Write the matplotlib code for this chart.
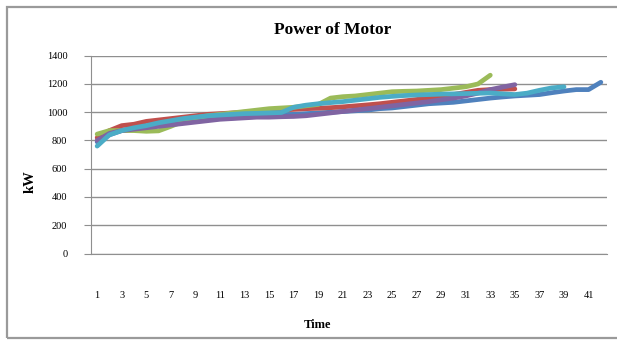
import matplotlib
matplotlib.use("Agg")
import matplotlib.pyplot as plt
from matplotlib.patches import Rectangle

time = list(range(1, 43))
tick_labels = [str(t) for t in range(1, 42, 2)]

blue = [790, 840, 870, 885, 900, 910, 920, 930, 940, 950, 955, 960, 965, 970, 975,
        980, 985, 990, 995, 1000, 1005, 1010, 1015, 1025, 1030, 1040, 1050, 1060,
        1065, 1070, 1080, 1090, 1100, 1108, 1115, 1120, 1125, 1138, 1150, 1160,
        1160, 1212]
red = [820, 870, 905, 915, 935, 945, 955, 965, 975, 985, 990, 995, 1000, 1005,
       1010, 1015, 1020, 1025, 1028, 1032, 1038, 1045, 1052, 1060, 1070, 1080,
       1090, 1100, 1110, 1125, 1140, 1155, 1160, 1163, 1165]
green = [845, 870, 870, 870, 865, 868, 900, 935, 960, 975, 985, 995, 1005, 1015,
         1025, 1030, 1035, 1045, 1055, 1100, 1110, 1115, 1125, 1135, 1145, 1148,
         1150, 1155, 1160, 1170, 1180, 1200, 1262]
purple = [800, 850, 870, 880, 890, 900, 910, 920, 930, 940, 950, 955, 960, 965,
          965, 968, 970, 975, 985, 995, 1005, 1015, 1025, 1035, 1045, 1055, 1065,
          1075, 1088, 1100, 1115, 1135, 1160, 1178, 1195]
aqua = [760, 840, 870, 890, 905, 925, 940, 955, 965, 975, 980, 985, 990, 992, 995,
        998, 1035, 1050, 1060, 1068, 1075, 1085, 1095, 1105, 1112, 1118, 1122,
        1125, 1128, 1130, 1132, 1134, 1136, 1130, 1125, 1135, 1155, 1172, 1180]

series = [blue, red, green, purple, aqua]
colors = ["#4F81BD", "#C0504D", "#9BBB59", "#8064A2", "#4BACC6"]

fig = plt.figure(figsize=(6.17, 3.43), dpi=100)
ax = fig.add_axes([91/617, 1 - 253.5/343, (607 - 91)/617, (253.5 - 55.7)/343])

for vals, c in zip(series, colors):
    ax.plot(time[:len(vals)], vals, color=c, lw=3.4, solid_capstyle="round",
            solid_joinstyle="round")

ax.set_xlim(0.5, 42.5)
ax.set_ylim(0, 1400)
ax.set_yticks(range(0, 1401, 200))
ax.set_xticks(range(1, 42, 2))
ax.set_xticklabels(tick_labels)
ax.grid(axis="y", color="#8f8f8f", lw=1)
ax.set_axisbelow(True)
for s in ["top", "right"]:
    ax.spines[s].set_visible(False)
ax.spines["left"].set_color("#8f8f8f")
ax.spines["bottom"].set_color("#8f8f8f")
ax.tick_params(axis="y", length=5, color="#8f8f8f", pad=12, labelsize=7.5)
ax.tick_params(axis="x", length=0, pad=27, labelsize=7.5)
for lab in ax.get_xticklabels() + ax.get_yticklabels():
    lab.set_fontfamily("Liberation Serif")

fig.text(333/617, 1 - 30.5/343, "Power of Motor", ha="center", va="center",
         fontsize=12.5, fontweight="bold", family="Liberation Serif")
fig.text(30/617, 1 - 182/343, "kW", ha="center", va="center", rotation=90,
         fontsize=10.5, fontweight="bold", family="Liberation Serif")
fig.text(318/617, 1 - 325/343, "Time", ha="center", va="center",
         fontsize=9, fontweight="bold", family="Liberation Serif")

fig.patches.append(Rectangle((7/617, 1 - 338/343), 620/617, 331/343,
                             transform=fig.transFigure, fill=False,
                             edgecolor="#9a9a9a", lw=1.6))

fig.savefig("out.png", dpi=100)
